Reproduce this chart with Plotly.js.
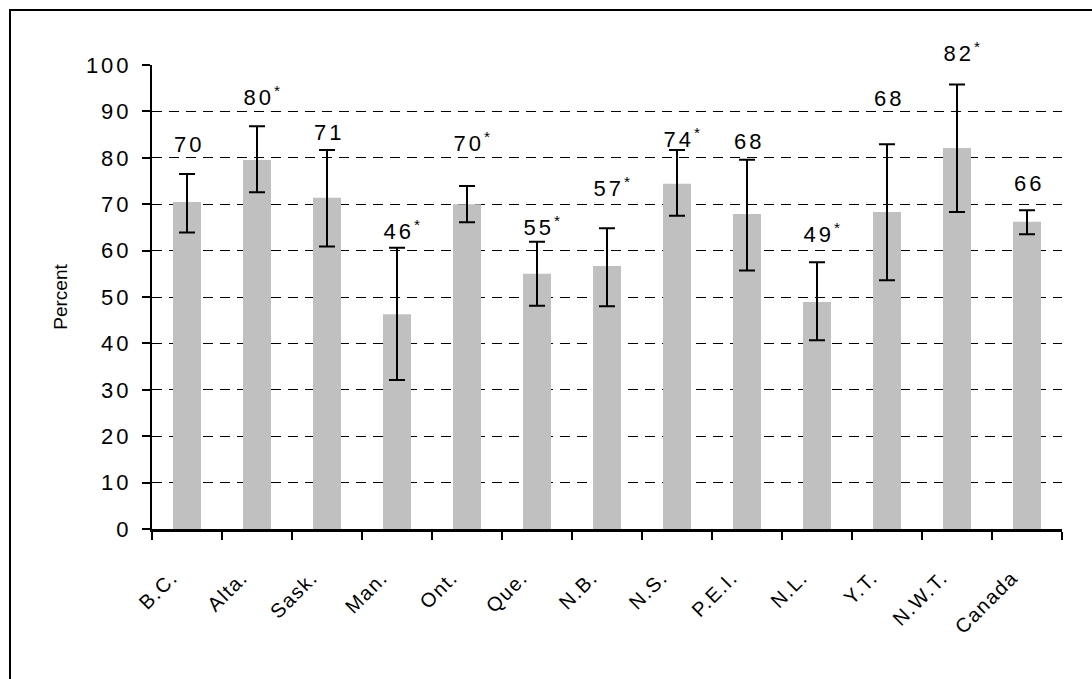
<!DOCTYPE html>
<html>
<head>
<meta charset="utf-8">
<script src="https://cdn.plot.ly/plotly-3.0.1.min.js"></script>
<style>
  html, body { margin: 0; padding: 0; background: #fff; }
  #chart { width: 1092px; height: 679px; }
  #chart .ytick text { letter-spacing: 3px; }
  #chart .xtick text { letter-spacing: 1.5px; }
  #chart .annotation-text { letter-spacing: 3px; }
</style>
</head>
<body>
<div id="chart"></div>
<script>
// Data
const categories = ["B.C.", "Alta.", "Sask.", "Man.", "Ont.", "Que.", "N.B.", "N.S.", "P.E.I.", "N.L.", "Y.T.", "N.W.T.", "Canada"];
const percent    = [70.5, 79.5, 71.4, 46.3, 70.0, 55.0, 56.7, 74.4, 67.9, 48.9, 68.3, 82.1, 66.2];
const errUpper   = [76.5, 86.8, 81.7, 60.6, 73.9, 61.9, 64.8, 81.7, 79.6, 57.5, 82.9, 95.8, 68.7];
const errLower   = [63.9, 72.6, 60.9, 32.1, 66.1, 48.1, 48.0, 67.5, 55.7, 40.7, 53.6, 68.3, 63.5];
const labelText  = ["70", "80", "71", "46", "70", "55", "57", "74", "68", "49", "68", "82", "66"];
const significant = [false, true, false, true, true, true, true, true, false, true, false, true, false];
// vertical placement of the value labels (axis units)
const labelY     = [82.8, 93.3, 85.5, 64.4, 83.5, 65.3, 73.6, 84.2, 83.5, 63.7, 92.8, 102.9, 74.5];
const yTicks     = [0, 10, 20, 30, 40, 50, 60, 70, 80, 90, 100];

const trace = {
  type: "bar",
  x: categories,
  y: percent,
  width: 0.4,
  marker: { color: "#c0c0c0", line: { width: 0 } },
  error_y: {
    type: "data",
    symmetric: false,
    array: errUpper.map((u, i) => u - percent[i]),
    arrayminus: percent.map((p, i) => p - errLower[i]),
    color: "#000000",
    thickness: 2,
    width: 8
  },
  hoverinfo: "skip"
};

const annotations = categories.map((c, i) => ({
  x: c,
  y: labelY[i] / 100,
  xref: "x",
  yref: "paper",
  text: significant[i] ? labelText[i] + "<sup>*</sup>" : labelText[i],
  showarrow: false,
  xanchor: "center",
  yanchor: "middle",
  xshift: significant[i] ? 6 : 2,
  font: { family: "Liberation Sans, Arial, sans-serif", size: 22, color: "#000" }
}));

const layout = {
  width: 1092,
  height: 679,
  margin: { l: 152, r: 30, t: 65, b: 150 },
  paper_bgcolor: "#ffffff",
  plot_bgcolor: "#ffffff",
  showlegend: false,
  bargap: 0.6,
  xaxis: {
    type: "category",
    showline: true,
    linecolor: "#000",
    linewidth: 3,
    ticks: "outside",
    tickson: "boundaries",
    ticklen: 8,
    tickwidth: 2,
    tickcolor: "#000",
    tickangle: -45,
    ticklabelstandoff: 26,
    ticklabelshift: -15,
    showgrid: false,
    zeroline: false,
    tickfont: { family: "Liberation Sans, Arial, sans-serif", size: 20, color: "#000" }
  },
  yaxis: {
    range: [0, 100],
    tickvals: yTicks,
    ticktext: yTicks.map(String),
    showline: true,
    linecolor: "#000",
    linewidth: 2,
    ticks: "outside",
    ticklen: 8,
    tickwidth: 2,
    tickcolor: "#000",
    ticklabelstandoff: 6,
    showgrid: true,
    gridcolor: "#000",
    gridwidth: 1,
    griddash: "10px,7px",
    zeroline: false,
    tickfont: { family: "Liberation Sans, Arial, sans-serif", size: 22, color: "#000" },
    title: { text: "Percent", font: { family: "Liberation Sans, Arial, sans-serif", size: 19, color: "#000" }, standoff: 22 }
  },
  annotations: annotations,
  shapes: [{
    type: "rect",
    xref: "paper",
    yref: "paper",
    x0: (10 - 152) / 910,
    x1: 1.2,
    y0: -0.5,
    y1: (529 - 10) / 464,
    line: { color: "#000", width: 2 },
    fillcolor: "rgba(0,0,0,0)",
    layer: "above"
  }]
};

Plotly.newPlot("chart", [trace], layout, { staticPlot: true, displayModeBar: false });
</script>
</body>
</html>
